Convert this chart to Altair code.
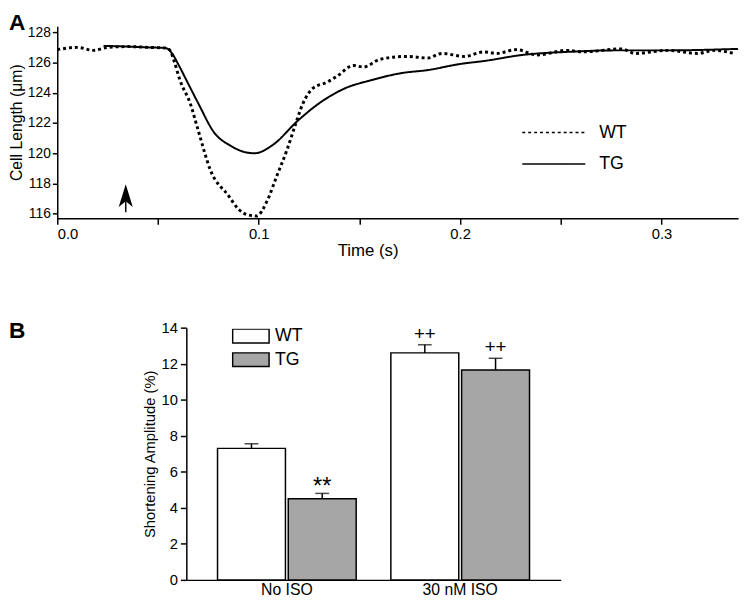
import altair as alt
import pandas as pd

# ---------------- Panel A data ----------------
wt_t = [0.000, 0.010, 0.018, 0.025, 0.035, 0.045, 0.054, 0.056, 0.058, 0.061, 0.066, 0.070, 0.076,
        0.085, 0.090, 0.094, 0.099, 0.104, 0.109, 0.114, 0.118, 0.122, 0.127, 0.134, 0.139, 0.147,
        0.152, 0.160, 0.173, 0.184, 0.191, 0.202, 0.212, 0.218, 0.228, 0.238, 0.253, 0.261, 0.280,
        0.287, 0.303, 0.318, 0.326, 0.336]
wt_v = [126.85, 127.0, 126.8, 127.0, 127.05, 127.0, 126.95, 126.8, 126.1, 124.8, 123.3, 121.5, 118.9,
        117.2, 116.3, 115.95, 115.85, 116.8, 118.5, 120.2, 121.8, 123.3, 124.3, 124.7, 125.1, 125.8,
        125.7, 126.2, 126.4, 126.3, 126.6, 126.4, 126.7, 126.6, 126.85, 126.5, 126.8, 126.7, 126.9,
        126.6, 126.8, 126.6, 126.8, 126.6]
tg_t = [0.023, 0.035, 0.045, 0.054, 0.057, 0.060, 0.065, 0.070, 0.078, 0.086, 0.094, 0.098, 0.1075,
        0.119, 0.130, 0.143, 0.155, 0.171, 0.184, 0.200, 0.212, 0.231, 0.253, 0.277, 0.302, 0.338]
tg_v = [127.1, 127.05, 127.0, 126.95, 126.6, 125.9, 124.6, 123.3, 121.35, 120.5, 120.05, 120.0, 120.6,
        122.1, 123.3, 124.3, 124.8, 125.3, 125.5, 125.9, 126.1, 126.5, 126.7, 126.8, 126.8, 126.9]
series_names = ["WT", "TG"]
x_ticks_a = [0.0, 0.05, 0.1, 0.15, 0.2, 0.25, 0.3]
y_ticks_a = [116, 118, 120, 122, 124, 126, 128]
arrow_t = [0.034]
arrow_base = [116.1]
arrow_mid = [117.2]

# ---------------- Panel B data ----------------
conditions = ["No ISO", "30 nM ISO"]
genotypes = ["WT", "TG"]
amp_mean = [7.3, 4.5, 12.6, 11.65]
amp_err = [0.25, 0.3, 0.45, 0.65]
amp_mark = ["", "**", "++", "++"]
y_ticks_b = [0, 2, 4, 6, 8, 10, 12, 14]

FONT = "Liberation Sans"

df_a = pd.DataFrame(
    {"t": wt_t + tg_t,
     "v": wt_v + tg_v,
     "series": ["WT"] * len(wt_t) + ["TG"] * len(tg_t)}
)
df_arrow = pd.DataFrame({"t": arrow_t, "base": arrow_base, "mid": arrow_mid})

xa_scale = alt.Scale(domain=[0, 0.338], nice=False)
xa_axis = alt.Axis(values=x_ticks_a, title="Time (s)", tickCount=len(x_ticks_a),
                   labelExpr="round(datum.value*20) % 2 == 0 ? format(datum.value, '.1f') : ''",
                   labelFontSize=15, titleFontSize=17, titleX=315, titleFontWeight="normal",
                   labelPadding=3, titlePadding=1, labelOverlap=False)
ya_scale = alt.Scale(domain=[115.7, 128.4], nice=False, zero=False)
ya_axis = alt.Axis(values=y_ticks_a, tickCount=len(y_ticks_a), format="d",
                   title="Cell Length (\u03bcm)",
                   labelFontSize=14, titleFontSize=16, titleFontWeight="normal",
                   labelPadding=2, tickSize=5, titlePadding=3, labelOverlap=False)

lines = alt.Chart(df_a).mark_line(color="black", interpolate="monotone").encode(
    x=alt.X("t:Q", scale=xa_scale, axis=xa_axis),
    y=alt.Y("v:Q", scale=ya_scale, axis=ya_axis),
    strokeDash=alt.StrokeDash("series:N",
                              scale=alt.Scale(domain=series_names, range=[[3, 3], [1, 0]]),
                              legend=alt.Legend(title=None, orient="none", legendX=471, legendY=98,
                                                symbolType="stroke", symbolSize=4096,
                                                symbolStrokeColor="black", symbolStrokeWidth=1.5,
                                                labelFontSize=18, labelOffset=13, clipHeight=20,
                                                rowPadding=12, labelFont=FONT)),
    strokeWidth=alt.condition(alt.datum.series == "WT", alt.value(3), alt.value(2)),
    order="t:Q",
)

arrow_shaft = alt.Chart(df_arrow).mark_rule(color="black", strokeWidth=1.5).encode(
    x=alt.X("t:Q", scale=xa_scale, axis=xa_axis),
    y=alt.Y("base:Q", scale=ya_scale, axis=ya_axis), y2="mid:Q")
arrow_head = alt.Chart(df_arrow).mark_point(
    shape="M0,-1L0.62,1L0,0.5L-0.62,1Z", filled=True, color="black", size=529, opacity=1
).encode(x=alt.X("t:Q", scale=xa_scale, axis=xa_axis),
         y=alt.Y("mid:Q", scale=ya_scale, axis=ya_axis))

label_a = alt.Chart(pd.DataFrame({"txt": ["A"]})).mark_text(
    fontSize=23, fontWeight="bold", font=FONT, align="left", baseline="top"
).encode(text="txt:N", x=alt.value(-49), y=alt.value(-14))

panel_a = alt.layer(lines, arrow_shaft, arrow_head, label_a).properties(width=691, height=195)

# ---------------- Panel B ----------------
df_b = pd.DataFrame({
    "cond": [conditions[0], conditions[0], conditions[1], conditions[1]],
    "geno": genotypes * 2,
    "mean": amp_mean,
    "err": amp_err,
    "mark": amp_mark,
})
df_b["top"] = df_b["mean"] + df_b["err"]

xb = alt.X("cond:N", sort=conditions,
           scale=alt.Scale(paddingInner=0.2, paddingOuter=0.18),
           axis=alt.Axis(title=None, labelAngle=0, ticks=False, labelFontSize=16, labelPadding=2))
xob = alt.XOffset("geno:N", sort=genotypes, scale=alt.Scale(paddingInner=0.04))
yb_scale = alt.Scale(domain=[0, 14], nice=False)
yb_axis = alt.Axis(values=y_ticks_b, tickCount=len(y_ticks_b), title="Shortening Amplitude (%)",
                   labelFontSize=15, titleFontSize=15, titleFontWeight="normal",
                   labelPadding=3, titlePadding=4, labelOverlap=False)

bars = alt.Chart(df_b).mark_bar(stroke="black", strokeWidth=1.5).encode(
    x=xb, xOffset=xob,
    y=alt.Y("mean:Q", scale=yb_scale, axis=yb_axis),
    fill=alt.Fill("geno:N", sort=genotypes,
                  scale=alt.Scale(domain=genotypes, range=["white", "#a6a6a6"]),
                  legend=alt.Legend(title=None, orient="none", legendX=46, legendY=1,
                                    symbolType="M-1,-0.38H1V0.38H-1Z", symbolSize=1369,
                                    symbolStrokeColor="black", symbolStrokeWidth=1.5,
                                    clipHeight=15, rowPadding=5, labelFontSize=18,
                                    labelOffset=5, labelFont=FONT)),
)
whisk = alt.Chart(df_b).mark_rule(color="black", strokeWidth=1.5).encode(
    x=xb, xOffset=xob, y=alt.Y("mean:Q", scale=yb_scale, axis=yb_axis), y2="top:Q")
caps = alt.Chart(df_b).mark_tick(color="black", thickness=1.5, size=14, orient="horizontal").encode(
    x=xb, xOffset=xob, y=alt.Y("top:Q", scale=yb_scale, axis=yb_axis))
stars = alt.Chart(df_b).transform_filter(alt.datum.mark == "**").mark_text(
    fontSize=24, font=FONT, baseline="middle", dy=-6).encode(
    x=xb, xOffset=xob, y=alt.Y("top:Q", scale=yb_scale, axis=yb_axis), text="mark:N")
plus = alt.Chart(df_b).transform_filter(alt.datum.mark == "++").mark_text(
    fontSize=19, font=FONT, baseline="middle", dy=-11).encode(
    x=xb, xOffset=xob, y=alt.Y("top:Q", scale=yb_scale, axis=yb_axis), text="mark:N")

panel_b = alt.layer(bars, whisk, caps, stars, plus).properties(width=380, height=256)

spacer = alt.Chart(pd.DataFrame({"txt": ["B"]})).mark_text(
    fontSize=23, fontWeight="bold", font=FONT, align="left", baseline="top"
).encode(text="txt:N", x=alt.value(-49), y=alt.value(-7)).properties(width=86, height=256)

row_b = alt.hconcat(spacer, panel_b, spacing=0).resolve_scale(fill="independent").resolve_legend(
    fill="independent")

chart = alt.vconcat(panel_a, row_b, spacing=63).properties(
    padding={"left": 0, "top": 0, "right": 0, "bottom": 0}
).resolve_scale(fill="independent", strokeDash="independent").resolve_legend(
    fill="independent", strokeDash="independent"
).configure_view(stroke=None).configure_axis(
    domainColor="black", domainWidth=1.5, tickColor="black", tickWidth=1.5, tickSize=6,
    labelColor="black", titleColor="black", labelFont=FONT, titleFont=FONT, grid=False,
    labelOverlap=False
).configure_text(color="black").configure_legend(labelColor="black")

chart.save("out.html", embed_options={"renderer": "svg", "actions": False})
